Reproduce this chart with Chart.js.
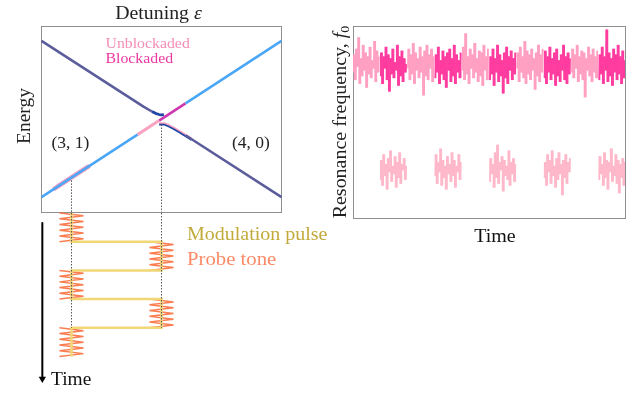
<!DOCTYPE html>
<html><head><meta charset="utf-8">
<script src="https://cdn.jsdelivr.net/npm/chart.js@4"></script>
<style>
html,body{margin:0;padding:0;background:#fff;width:635px;height:394px;overflow:hidden}
#left{position:absolute;left:0;top:0}
#right{position:absolute;left:320px;top:0}
</style></head><body>
<canvas id="left" width="345" height="394"></canvas>
<canvas id="right" width="315" height="394"></canvas>
<script>
// ---------- Energy diagram: [detuning ε, energy E] ----------
const darkUpperLeft    = [[-1,0.84],[-0.15,0.133],[-0.08,0.081]];
const anticrossTop     = [[-0.08,0.081],[-0.05,0.061],[-0.02,0.048],[0,0.045],[0.02,0.048]];
const blockadedCross   = [[-0.02,-0.017],[0.2,0.168]];
const blueUpperRight   = [[0.2,0.168],[1,0.84]];
const blueLowerLeft    = [[-1,-0.84],[-0.2,-0.168]];
const unblockadedCross = [[-0.2,-0.168],[-0.02,-0.017]];
const unblockadedLower = [[-0.02,-0.048],[0.02,-0.048],[0.06,-0.068],[0.1,-0.095],[0.15,-0.133],[0.2,-0.174],[0.25,-0.214]];
const darkLowerRight   = [[0.2,-0.174],[1,-0.84]];
const unblockaded31    = [[-0.9,-0.756],[-0.6,-0.504]];
const blockaded31      = [[-0.88,-0.725],[-0.62,-0.507]];
const probeDetunings   = [-0.75, 0];
const probeLineTopE    = [-0.66, -0.06];

// ---------- Timing diagram ----------
const pulseStart   = [0, 1, 2, 3, 4];
const pulseLevel   = [-0.75, 0, -0.75, 0, -0.75];   // detuning of each modulation step
const probeShapeDx = [-1,1,-1,1,-1,1,-1,1,-1,1,-1];
const probeShapeDt = [0,0.1,0.2,0.3,0.4,0.5,0.6,0.7,0.8,0.9,1.0];
const timeArrow    = [0.35, 5.72];

// ---------- Resonance frequency trace ----------
const upperSegments = [
 [76,85,72,88,79,94,70,83,74,90,77,86,68,84,75,89,73,82,78,92,71,87,76,84],
 [74,86,70,84,78,89,72,85,66,83,75,88,73,81,77,90,69,84,74,87,71,83,76,80],
 [78,88,72,85,75,91,70,86,77,83,73,89,76,84,64,87,74,90,72,85,78,88,71,84],
 [73,85,76,89,70,82,75,87,72,84,68,86,77,88,71,83,74,90,70,85,76,82,73,86],
 [77,89,72,96,75,84,70,88,78,85,73,91,76,83,71,87,74,86,69,90,77,84,72,88],
 [72,84,75,88,69,83,76,90,71,85,74,82,65,86,73,89,70,84,77,87,72,83,75,86],
 [78,86,71,89,76,84,73,92,70,87,75,85,72,88,77,83,67,86,74,90,71,85,76,88],
 [73,87,70,84,76,89,72,83,75,86,69,88,74,82,71,85,77,90,72,84,70,86,75,83],
 [76,88,73,85,78,90,71,84,75,87,72,86,63,83,77,89,74,85,71,88,76,84,73,87],
 [72,85,75,89,70,84,77,98,71,86,74,83,69,88,76,85,72,90,75,84,70,87,73,82]
];
const lowerSegments = [
 [20,30,17,33,22,28,15,31,24,35,19,27,23,32,16,29,21,34,18,28,25,31,20,27],
 [22,33,18,29,24,36,17,30,21,27,15,32,23,28,19,34,22,30,16,27,24,33,20,29],
 [19,31,23,28,16,34,21,38,18,29,25,32,14,30,22,27,20,35,17,29,23,31,19,28],
 [21,29,17,33,24,30,18,35,22,27,16,31,20,34,23,28,12,30,21,33,18,29,24,31],
 [20,32,23,28,17,34,21,30,15,29,24,36,19,27,22,33,18,30,13,28,21,31,17,29]
];
const lowerSegmentIndex = [1,3,5,7,9];

// ---------- styles ----------
const C = {
  dark:'#5a5c9c', navy:'#1f45a6', blue:'#4aa6f6', pink:'#f7a3c1', magenta:'#cc38b0',
  frame:'#8f8f8f', dotted:'#555', yellow:'#f1d775', probe:'rgba(250,115,66,0.92)',
  unbl:'#f58db5', bl:'#ea36a0', modText:'#c2aa3a', probeText:'#fb8a66',
  upLight:'#ffa0c2', upDark:'#ff3c9f', low:'#ffb8ca',
  upLightLine:'rgba(255,140,182,0.7)', upDarkLine:'rgba(255,40,150,0.7)', lowLine:'rgba(255,168,192,0.7)'
};
const SERIF = '"Liberation Serif","Times New Roman",serif';

function toXY(pairs){ return pairs.map(p=>({x:p[0], y:p[1]})); }
function line(pairs, color, width, axis, extra){
  return Object.assign({data:toXY(pairs), showLine:true, borderColor:color, backgroundColor:color,
    borderWidth:width, pointRadius:0, yAxisID:axis||'y', clip:false, borderCapStyle:'butt', borderJoinStyle:'round'}, extra||{});
}
function drawRuns(ctx, runs, x, y, align, rot, color, sx){
  ctx.save(); ctx.translate(x,y); if(rot) ctx.rotate(rot); if(sx) ctx.scale(sx,1);
  let total=0;
  runs.forEach(r=>{ctx.font=r.font; r.w=ctx.measureText(r.t).width; total+=r.w;});
  let cx = align==='center' ? -total/2 : 0;
  ctx.textAlign='left'; ctx.textBaseline='alphabetic';
  runs.forEach(r=>{ctx.font=r.font; ctx.fillStyle=r.color||color; ctx.fillText(r.t,cx,r.dy||0); cx+=r.w;});
  ctx.restore();
}

// ---------- left chart datasets ----------
const leftSets = [];
probeDetunings.forEach((d,i)=>{
  leftSets.push(line([[d,probeLineTopE[i]],[d,-1]], C.dotted, 1, 'y', {borderDash:[1.5,1.5]}));
  leftSets.push(line([[d,0],[d,4]], C.dotted, 1, 'yT', {borderDash:[1.5,1.5]}));
});
const modPts = [];
pulseStart.forEach((t,i)=>{ modPts.push([pulseLevel[i], t]); modPts.push([pulseLevel[i], t+1]); });
leftSets.push(line(modPts, C.yellow, 2.5, 'yT', {borderJoinStyle:'miter'}));
pulseStart.forEach((t,i)=>{
  const pts = probeShapeDx.map((dx,k)=>[pulseLevel[i] + dx*0.1, t + probeShapeDt[k]]);
  leftSets.push(line(pts, C.probe, 1.5, 'yT', {borderJoinStyle:'bevel'}));
});
leftSets.push(line([[-0.993,timeArrow[0]],[-0.993,timeArrow[1]]], '#000', 2, 'yT'));
leftSets.push({data:[{x:-0.993,y:timeArrow[1]+0.06}], yAxisID:'yT', showLine:false, pointStyle:'triangle', rotation:180,
  pointRadius:4.2, pointHoverRadius:4.2, backgroundColor:'#000', borderColor:'#000', borderWidth:0, clip:false});
leftSets.push(line(darkUpperLeft, C.dark, 2.5));
leftSets.push(line(darkLowerRight, C.dark, 2.5));
leftSets.push(line(blueUpperRight, C.blue, 2.5));
leftSets.push(line(blueLowerLeft, C.blue, 2.5));
leftSets.push(line(unblockadedLower.map(p=>[p[0],p[1]-0.012]), C.navy, 1.6));
leftSets.push(line(unblockadedLower, C.pink, 2.6));
leftSets.push(line(unblockadedCross, C.pink, 3));
leftSets.push(line(anticrossTop, C.navy, 2.8));
leftSets.push(line(blockadedCross, C.magenta, 2.6));
leftSets.push(line(unblockaded31, C.pink, 4.5));
leftSets.push(line(blockaded31, C.magenta, 2));

const leftDecor = {
  id:'leftDecor',
  beforeDatasetsDraw(chart){
    const {ctx, scales:{x,y}} = chart;
    const l=Math.round(x.getPixelForValue(-1))+0.5, r=Math.round(x.getPixelForValue(1))+0.5;
    const t=Math.round(y.getPixelForValue(1))+0.5, b=Math.round(y.getPixelForValue(-1))+0.5;
    ctx.save(); ctx.strokeStyle=C.frame; ctx.lineWidth=1; ctx.strokeRect(l,t,r-l,b-t); ctx.restore();
  },
  afterDatasetsDraw(chart){
    const {ctx} = chart;
    const f = s=>s+'px '+SERIF, fi = s=>'italic '+s+'px '+SERIF;
    drawRuns(ctx,[{t:'Detuning ',font:f(18)},{t:'ε',font:fi(18)}],158.5,18.5,'center',0,'#222',1.1);
    drawRuns(ctx,[{t:'Energy',font:f(18)}],30,116,'center',-Math.PI/2,'#222',1.08);
    drawRuns(ctx,[{t:'Unblockaded',font:f(15.5)}],105.5,47.5,'left',0,C.unbl,1.02);
    drawRuns(ctx,[{t:'Blockaded',font:f(15.5)}],105.5,63.3,'left',0,C.bl,1.02);
    drawRuns(ctx,[{t:'(3, 1)',font:f(17.5)}],51.5,147.5,'left',0,'#222');
    drawRuns(ctx,[{t:'(4, 0)',font:f(17.5)}],232,147.5,'left',0,'#222');
    drawRuns(ctx,[{t:'Modulation pulse',font:f(18.5)}],187,240,'left',0,C.modText,1.08);
    drawRuns(ctx,[{t:'Probe tone',font:f(18.5)}],187,265,'left',0,C.probeText,1.12);
    drawRuns(ctx,[{t:'Time',font:f(18.5)}],51,385,'left',0,'#111',1.05);
  }
};

new Chart(document.getElementById('left'), {
  type:'scatter',
  data:{datasets:leftSets},
  options:{
    responsive:false, animation:false, devicePixelRatio:1,
    layout:{padding:0, autoPadding:false},
    events:[],
    plugins:{legend:{display:false}, tooltip:{enabled:false}},
    scales:{
      x:{type:'linear', display:false, min:-1.3458, max:1.5292},
      y:{type:'linear', display:false, min:-2.957, max:1.2796},
      yT:{type:'linear', axis:'y', display:false, min:-7.422, max:6.307, reverse:true}
    }
  },
  plugins:[leftDecor]
});

// ---------- right chart ----------
const perSeg = upperSegments[0].length;
const rightSets = [];
function bandSets(vals, s, color, lineColor){
  // floating bars spanning consecutive samples give the dense noise band; the line adds the fine spikes
  const bars = [];
  for (let j=0;j<vals.length-1;j++){
    bars.push({x:s*perSeg+j+0.5, y:[Math.min(vals[j],vals[j+1]), Math.max(vals[j],vals[j+1])]});
  }
  rightSets.push({type:'bar', data:bars, backgroundColor:color, borderWidth:0, barPercentage:1, categoryPercentage:1, grouped:false});
  rightSets.push({type:'scatter', data:vals.map((v,j)=>({x:s*perSeg+j, y:v})), showLine:true, pointRadius:0, borderWidth:0.8, borderColor:lineColor});
}
upperSegments.forEach((vals,s)=> bandSets(vals, s, s%2 ? C.upDark : C.upLight, s%2 ? C.upDarkLine : C.upLightLine));
lowerSegments.forEach((vals,k)=> bandSets(vals, lowerSegmentIndex[k], C.low, C.lowLine));

const rightDecor = {
  id:'rightDecor',
  beforeDatasetsDraw(chart){
    const {ctx, chartArea:a} = chart;
    ctx.save(); ctx.strokeStyle=C.frame; ctx.lineWidth=1;
    ctx.strokeRect(Math.round(a.left)+0.5, Math.round(a.top)+0.5, Math.round(a.right-a.left), Math.round(a.bottom-a.top));
    ctx.restore();
  },
  afterDraw(chart){
    const {ctx} = chart;
    const f = s=>s+'px '+SERIF, fi = s=>'italic '+s+'px '+SERIF;
    drawRuns(ctx,[{t:'Resonance frequency, ',font:f(18.5)},{t:'f',font:fi(18.5)},{t:'0',font:f(13),dy:3}],25.5,122,'center',-Math.PI/2,'#222',1.08);
    drawRuns(ctx,[{t:'Time',font:f(18.5)}],175,241.5,'center',0,'#111',1.08);
  }
};

new Chart(document.getElementById('right'), {
  type:'scatter',
  data:{datasets:rightSets},
  options:{
    responsive:false, animation:false, devicePixelRatio:1,
    layout:{padding:{left:33, right:10, top:26, bottom:176}, autoPadding:false},
    events:[],
    plugins:{legend:{display:false}, tooltip:{enabled:false}},
    scales:{
      x:{type:'linear', display:false, offset:false, min:0, max:upperSegments.length*perSeg-1},
      y:{type:'linear', display:false, min:0, max:100}
    }
  },
  plugins:[rightDecor]
});
</script>
</body></html>
